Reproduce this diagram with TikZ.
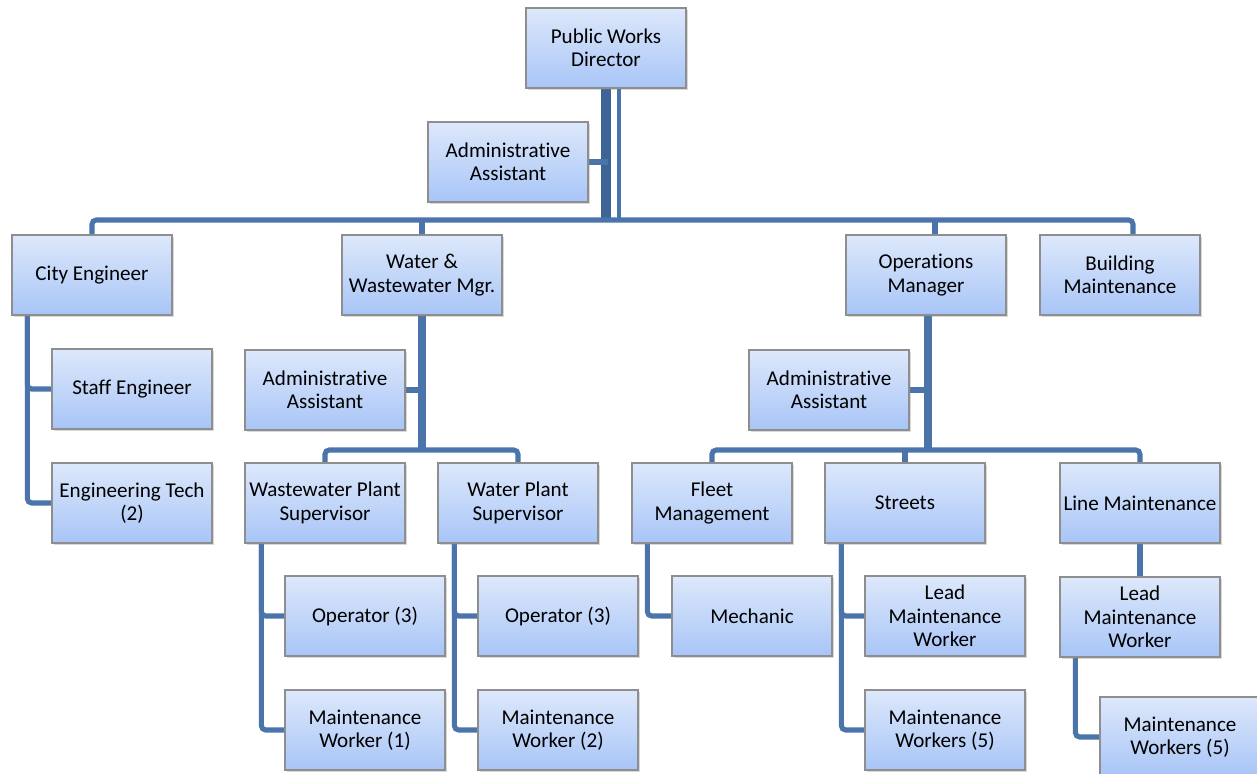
\documentclass[tikz,border=0pt]{standalone}
\usepackage{fontspec}
\setmainfont{Carlito}[Ligatures=NoCommon]
\usetikzlibrary{calc,shadows,backgrounds}

\definecolor{boxtop}{HTML}{DDE8FB}
\definecolor{boxbot}{HTML}{A8C5F7}
\definecolor{boxline}{HTML}{8E8E8E}
\definecolor{linkblue}{HTML}{4A74AA}
\definecolor{trunkblue}{HTML}{3E6495}

\begin{document}
\begin{tikzpicture}[
  x=0.025cm, y=-0.025cm,
  font=\fontsize{15}{16.6}\selectfont,
  unit/.style={draw=boxline, line width=0.8pt, top color=boxtop, bottom color=boxbot,
    align=center, minimum width=4cm, minimum height=2cm, inner sep=1pt,
    drop shadow={shadow xshift=0.06cm, shadow yshift=-0.06cm, opacity=0.3}},
  link/.style={draw=linkblue, line width=3.6pt, rounded corners=3pt},
  trunk/.style={draw=trunkblue, line width=7pt}
]
  \useasboundingbox (0,0) rectangle (1257,774);

  % Top level
  \node[unit] (dir) at (606,48) {Public Works\\Director};
  \node[unit] (adm) at (508,162) {Administrative\\Assistant};

  % Department heads
  \node[unit] (city) at (92,275) {City Engineer};
  \node[unit] (ww) at (422,275) {Water \&\\Wastewater Mgr.};
  \node[unit] (ops) at (926,275) {Operations\\Manager};
  \node[unit] (bldg) at (1120,275) {Building\\Maintenance};

  % City engineer staff
  \node[unit] (staff) at (132,389) {Staff Engineer};
  \node[unit] (etech) at (132,503) {Engineering Tech\\(2)};

  % Water & wastewater
  \node[unit] (wwadm) at (325,390) {Administrative\\Assistant};
  \node[unit] (wwps) at (325,503) {Wastewater Plant\\Supervisor};
  \node[unit] (wps) at (518,503) {Water Plant\\Supervisor};
  \node[unit] (op1) at (365,616) {Operator (3)};
  \node[unit] (mw1) at (365,730) {Maintenance\\Worker (1)};
  \node[unit] (op2) at (558,616) {Operator (3)};
  \node[unit] (mw2) at (558,730) {Maintenance\\Worker (2)};

  % Operations
  \node[unit] (opsadm) at (829,390) {Administrative\\Assistant};
  \node[unit] (fleet) at (712,503) {Fleet\\Management};
  \node[unit] (streets) at (905,503) {Streets};
  \node[unit] (linem) at (1140,503) {Line Maintenance};
  \node[unit] (mech) at (752,616) {Mechanic};
  \node[unit] (lead1) at (945,616) {Lead\\Maintenance\\Worker};
  \node[unit] (mws) at (945,730) {Maintenance\\Workers (5)};
  \node[unit] (lead2) at (1140,617) {Lead\\Maintenance\\Worker};
  \node[unit] (mwl) at (1180,737) {Maintenance\\Workers (5)};

  \coordinate (bus) at (608,220);
  \coordinate (wwbus) at (422,450);
  \coordinate (opsbus) at (928,450);

  \begin{scope}[on background layer]
    % director to department heads
    \draw[trunk] (dir.south) -- (dir.south |- bus);
    \draw[link, line width=2.8pt] ($(dir.south)+(13,0)$) -- ($(dir.south |- bus)+(13,0)$);
    \draw[link] (adm.east) -- (adm.east -| bus);
    \draw[link] (city.north) |- (bus) -| ($(bldg.north)+(13,0)$);
    \draw[link] (ww.north) -- (ww.north |- bus);
    \draw[link] ($(ops.north)+(9,0)$) -- ($(ops.north |- bus)+(9,0)$);

    % city engineer
    \draw[link] ($(city.south west)+(16,0)$) |- (staff.west);
    \draw[link] ($(city.south west)+(16,0)$) |- (etech.west);

    % water & wastewater
    \draw[link, line width=5pt] (ww.south) -- (wwbus);
    \draw[link] (wwadm.east) -- (wwadm.east -| wwbus);
    \draw[link] (wwps.north) |- (wwbus) -| (wps.north);
    \draw[link] ($(wwps.south west)+(17,0)$) |- (op1.west);
    \draw[link] ($(wwps.south west)+(17,0)$) |- (mw1.west);
    \draw[link] ($(wps.south west)+(17,0)$) |- (op2.west);
    \draw[link] ($(wps.south west)+(17,0)$) |- (mw2.west);

    % operations
    \draw[link, line width=5pt] ($(ops.south)+(2,0)$) -- (opsbus);
    \draw[link] (opsadm.east) -- (opsadm.east -| opsbus);
    \draw[link] (fleet.north) |- (opsbus) -| (linem.north);
    \draw[link] (streets.north) -- (streets.north |- opsbus);
    \draw[link] ($(fleet.south west)+(16,0)$) |- (mech.west);
    \draw[link] ($(streets.south west)+(17,0)$) |- (lead1.west);
    \draw[link] ($(streets.south west)+(17,0)$) |- (mws.west);
    \draw[link] (linem.south) -- (lead2.north);
    \draw[link] ($(lead2.south west)+(16,0)$) |- (mwl.west);
  \end{scope}
\end{tikzpicture}
\end{document}
